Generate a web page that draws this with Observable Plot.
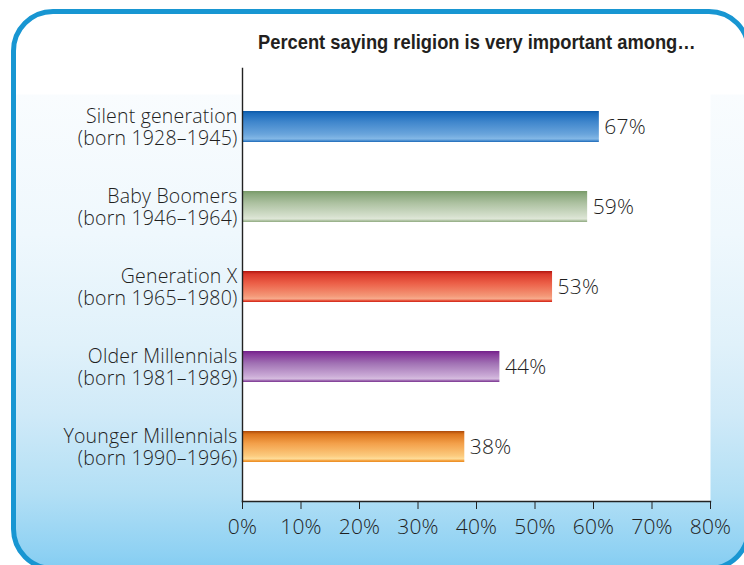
<!DOCTYPE html>
<html>
<head>
<meta charset="utf-8">
<script src="https://cdn.jsdelivr.net/npm/d3@7"></script>
<script src="https://cdn.jsdelivr.net/npm/@observablehq/plot@0.6"></script>
<style>
  html, body { margin: 0; padding: 0; background: #fff; }
  #wrap { position: relative; width: 744px; height: 565px; overflow: hidden; background: #fff; }
  #panel {
    position: absolute; left: 11px; top: 9px; width: 740px; height: 562px;
    box-sizing: border-box; border: 5.5px solid #1896d2; border-radius: 42px;
    background: linear-gradient(to bottom, #ffffff 0px, #ffffff 80px, #f9fcfe 81px, #eff8fd 220px, #e0f1fa 330px, #d0eaf8 400px, #b2dff5 480px, #8ed1f3 540px, #80cbf1 560px);
  }
  #title { position: absolute; left: 0; top: 0; }
  #chart { position: absolute; left: 0; top: 0; }
  #chart svg text { font-weight: 300; letter-spacing: 0.2px; }
</style>
</head>
<body>
<div id="wrap">
  <div id="panel"></div>
  <div id="chart"></div>
  <svg id="title" width="744" height="70">
    <text id="titleText" transform="translate(258,49)"
      style="font-family:'Liberation Sans','Roboto',sans-serif;font-weight:bold;font-size:19.5px;fill:#231f20">Percent saying religion is very important among…</text>
  </svg>
</div>
<script>
// Categories (top to bottom)
const groups = [
  "Silent generation\n(born 1928–1945)",
  "Baby Boomers\n(born 1946–1964)",
  "Generation X\n(born 1965–1980)",
  "Older Millennials\n(born 1981–1989)",
  "Younger Millennials\n(born 1990–1996)"
];
// Value labels printed next to bars
const labelValues = [67, 59, 53, 44, 38];
// Bar lengths as drawn in the picture (the first bar is drawn shorter than its label)
const barLengths = [61, 59, 53, 44, 38];
// x-axis ticks
const xTicks = [0, 10, 20, 30, 40, 50, 60, 70, 80];

// Condense the title to its width in the reference
{
  const t = document.getElementById("titleText");
  const w = t.getComputedTextLength();
  const sx = w > 0 ? 438 / w : 1;
  t.setAttribute("transform", `translate(258,49) scale(${sx},1)`);
}

// Bar gradient styles
const gradientIds = ["gBlue", "gGreen", "gRed", "gPurple", "gOrange"];
const gradientStops = {
  gBlue:   [[0, "#0a57a6"], [0.08, "#1b6bbb"], [0.35, "#3f86cc"], [0.75, "#6aa5dc"], [0.9, "#84b8e6"], [0.95, "#4f92d2"], [1, "#1d69b7"]],
  gGreen:  [[0, "#789a68"], [0.1, "#8aa87c"], [0.4, "#aec2a2"], [0.8, "#d4dfcc"], [0.9, "#dfe7d8"], [0.95, "#b3c5a7"], [1, "#8faa80"]],
  gRed:    [[0, "#b0150e"], [0.1, "#d9382a"], [0.4, "#ec6048"], [0.8, "#f49777"], [0.9, "#f7ab8d"], [0.95, "#e8573f"], [1, "#cf2216"]],
  gPurple: [[0, "#72208a"], [0.1, "#85389a"], [0.4, "#a172b4"], [0.8, "#caaad6"], [0.9, "#d6bddf"], [0.95, "#a06cb2"], [1, "#7a3290"]],
  gOrange: [[0, "#a9480a"], [0.1, "#db741c"], [0.4, "#f3a04a"], [0.8, "#fccb7e"], [0.9, "#fedd9a"], [0.95, "#f5a544"], [1, "#ea8a1e"]]
};

const data = groups.map((g, i) => ({
  group: g,
  len: barLengths[i],
  label: labelValues[i],
  grad: gradientIds[i]
}));

const defs = () => {
  const d = d3.create("svg:defs");
  for (const id of gradientIds) {
    const lg = d.append("linearGradient").attr("id", id)
      .attr("x1", 0).attr("y1", 0).attr("x2", 0).attr("y2", 1);
    for (const [o, c] of gradientStops[id]) lg.append("stop").attr("offset", o).attr("stop-color", c);
  }
  return d.node();
};

const chart = Plot.plot({
  width: 744,
  height: 565,
  marginLeft: 242,
  marginRight: 34,
  marginTop: 68,
  marginBottom: 64,
  style: { background: "transparent", fontFamily: "'Open Sans', sans-serif", fontSize: "20px", color: "#222" },
  x: { domain: [0, 80] },
  y: { domain: groups, paddingInner: 0.616, paddingOuter: 0.308, insetTop: 16, insetBottom: 13 },
  color: { type: "identity" },
  marks: [
    defs,
    Plot.frame({ fill: "white", stroke: null }),
    Plot.barX(data, { x: "len", y: "group", fill: d => `url(#${d.grad})` }),
    Plot.text(data, { x: "len", y: "group", text: d => `${d.label}%`, dx: 5, textAnchor: "start", fontSize: 21, fill: "#1f1f1f" }),
    Plot.frame({ anchor: "bottom", stroke: "#222", strokeWidth: 1.4 }),
    Plot.frame({ anchor: "left", stroke: "#222", strokeWidth: 1.4 }),
    Plot.axisX({ ticks: xTicks, tickFormat: d => `${d}%`, tickSize: 8, tickPadding: 10, fontSize: 21, stroke: "#222", fill: "#1f1f1f", label: null }),
    Plot.axisY({ tickSize: 0, tickPadding: 5, fontSize: 19.5, lineHeight: 1.13, fill: "#1f1f1f", label: null })
  ]
});
document.getElementById("chart").appendChild(chart);
</script>
</body>
</html>
